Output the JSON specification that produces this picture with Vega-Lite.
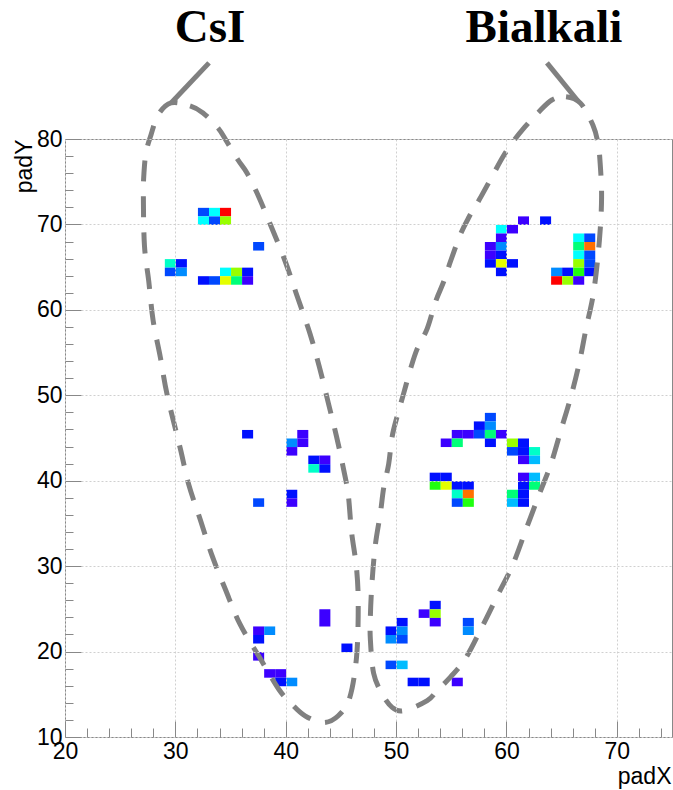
{
  "$schema": "https://vega.github.io/schema/vega-lite/v6.json",
  "width": 607,
  "height": 598,
  "autosize": "none",
  "padding": {"left": 65, "top": 139, "right": 1, "bottom": 53},
  "background": "white",
  "config": {
    "view": {"stroke": "#888888", "strokeWidth": 1},
    "axis": {"labelFont": "Liberation Sans", "titleFont": "Liberation Sans", "labelFontSize": 23, "titleFontSize": 23, "labelColor": "black", "titleColor": "black", "titleFontWeight": "normal", "domain": false, "tickColor": "#888888"}
  },
  "datasets": {
    "cells": [
      {"padX": 32.5, "padY": 71.5, "z": 3}, {"padX": 33.5, "padY": 71.5, "z": 6}, {"padX": 34.5, "padY": 71.5, "z": 13},
      {"padX": 32.5, "padY": 70.5, "z": 6}, {"padX": 33.5, "padY": 70.5, "z": 3}, {"padX": 34.5, "padY": 70.5, "z": 10},
      {"padX": 37.5, "padY": 67.5, "z": 3},
      {"padX": 29.5, "padY": 65.5, "z": 7}, {"padX": 30.5, "padY": 65.5, "z": 2},
      {"padX": 29.5, "padY": 64.5, "z": 3}, {"padX": 30.5, "padY": 64.5, "z": 4},
      {"padX": 34.5, "padY": 64.5, "z": 6}, {"padX": 35.5, "padY": 64.5, "z": 10}, {"padX": 36.5, "padY": 64.5, "z": 2},
      {"padX": 32.5, "padY": 63.5, "z": 2}, {"padX": 33.5, "padY": 63.5, "z": 3}, {"padX": 34.5, "padY": 63.5, "z": 11}, {"padX": 35.5, "padY": 63.5, "z": 8}, {"padX": 36.5, "padY": 63.5, "z": 1},
      {"padX": 36.5, "padY": 45.5, "z": 2},
      {"padX": 40.5, "padY": 44.5, "z": 4}, {"padX": 40.5, "padY": 43.5, "z": 1},
      {"padX": 41.5, "padY": 45.5, "z": 1}, {"padX": 41.5, "padY": 44.5, "z": 1},
      {"padX": 42.5, "padY": 42.5, "z": 2}, {"padX": 43.5, "padY": 42.5, "z": 1},
      {"padX": 42.5, "padY": 41.5, "z": 7}, {"padX": 43.5, "padY": 41.5, "z": 2},
      {"padX": 40.5, "padY": 38.5, "z": 2}, {"padX": 40.5, "padY": 37.5, "z": 1},
      {"padX": 37.5, "padY": 37.5, "z": 3},
      {"padX": 37.5, "padY": 22.5, "z": 1}, {"padX": 38.5, "padY": 22.5, "z": 4},
      {"padX": 37.5, "padY": 21.5, "z": 2}, {"padX": 37.5, "padY": 19.5, "z": 1},
      {"padX": 38.5, "padY": 17.5, "z": 1}, {"padX": 39.5, "padY": 17.5, "z": 1},
      {"padX": 39.5, "padY": 16.5, "z": 2}, {"padX": 40.5, "padY": 16.5, "z": 4},
      {"padX": 43.5, "padY": 24.5, "z": 1}, {"padX": 43.5, "padY": 23.5, "z": 1},
      {"padX": 45.5, "padY": 20.5, "z": 2},
      {"padX": 61.5, "padY": 70.5, "z": 1}, {"padX": 63.5, "padY": 70.5, "z": 2},
      {"padX": 59.5, "padY": 69.5, "z": 6}, {"padX": 60.5, "padY": 69.5, "z": 1},
      {"padX": 59.5, "padY": 68.5, "z": 1},
      {"padX": 58.5, "padY": 67.5, "z": 1}, {"padX": 59.5, "padY": 67.5, "z": 4},
      {"padX": 58.5, "padY": 66.5, "z": 1}, {"padX": 59.5, "padY": 66.5, "z": 2},
      {"padX": 58.5, "padY": 65.5, "z": 2}, {"padX": 59.5, "padY": 65.5, "z": 11}, {"padX": 60.5, "padY": 65.5, "z": 2},
      {"padX": 59.5, "padY": 64.5, "z": 2},
      {"padX": 66.5, "padY": 68.5, "z": 6}, {"padX": 67.5, "padY": 68.5, "z": 3},
      {"padX": 66.5, "padY": 67.5, "z": 8}, {"padX": 67.5, "padY": 67.5, "z": 12},
      {"padX": 66.5, "padY": 66.5, "z": 6}, {"padX": 67.5, "padY": 66.5, "z": 3},
      {"padX": 66.5, "padY": 65.5, "z": 10}, {"padX": 67.5, "padY": 65.5, "z": 3},
      {"padX": 64.5, "padY": 64.5, "z": 4}, {"padX": 65.5, "padY": 64.5, "z": 2}, {"padX": 66.5, "padY": 64.5, "z": 9}, {"padX": 67.5, "padY": 64.5, "z": 2},
      {"padX": 64.5, "padY": 63.5, "z": 13}, {"padX": 65.5, "padY": 63.5, "z": 10}, {"padX": 66.5, "padY": 63.5, "z": 1},
      {"padX": 58.5, "padY": 47.5, "z": 3},
      {"padX": 57.5, "padY": 46.5, "z": 2}, {"padX": 58.5, "padY": 46.5, "z": 4},
      {"padX": 55.5, "padY": 45.5, "z": 1}, {"padX": 56.5, "padY": 45.5, "z": 1}, {"padX": 57.5, "padY": 45.5, "z": 3}, {"padX": 58.5, "padY": 45.5, "z": 8}, {"padX": 59.5, "padY": 45.5, "z": 1},
      {"padX": 54.5, "padY": 44.5, "z": 1}, {"padX": 55.5, "padY": 44.5, "z": 8}, {"padX": 58.5, "padY": 44.5, "z": 2}, {"padX": 60.5, "padY": 44.5, "z": 10}, {"padX": 61.5, "padY": 44.5, "z": 2},
      {"padX": 60.5, "padY": 43.5, "z": 3}, {"padX": 61.5, "padY": 43.5, "z": 2}, {"padX": 62.5, "padY": 43.5, "z": 7},
      {"padX": 61.5, "padY": 42.5, "z": 1}, {"padX": 62.5, "padY": 42.5, "z": 5},
      {"padX": 53.5, "padY": 40.5, "z": 2}, {"padX": 54.5, "padY": 40.5, "z": 2}, {"padX": 61.5, "padY": 40.5, "z": 1}, {"padX": 62.5, "padY": 40.5, "z": 5},
      {"padX": 53.5, "padY": 39.5, "z": 9}, {"padX": 54.5, "padY": 39.5, "z": 11}, {"padX": 55.5, "padY": 39.5, "z": 2}, {"padX": 56.5, "padY": 39.5, "z": 2}, {"padX": 61.5, "padY": 39.5, "z": 2}, {"padX": 62.5, "padY": 39.5, "z": 8},
      {"padX": 55.5, "padY": 38.5, "z": 7}, {"padX": 56.5, "padY": 38.5, "z": 12}, {"padX": 60.5, "padY": 38.5, "z": 8}, {"padX": 61.5, "padY": 38.5, "z": 2},
      {"padX": 55.5, "padY": 37.5, "z": 3}, {"padX": 56.5, "padY": 37.5, "z": 9}, {"padX": 60.5, "padY": 37.5, "z": 5}, {"padX": 61.5, "padY": 37.5, "z": 2},
      {"padX": 53.5, "padY": 25.5, "z": 2},
      {"padX": 52.5, "padY": 24.5, "z": 1}, {"padX": 53.5, "padY": 24.5, "z": 10},
      {"padX": 53.5, "padY": 23.5, "z": 1}, {"padX": 50.5, "padY": 23.5, "z": 2},
      {"padX": 49.5, "padY": 22.5, "z": 2}, {"padX": 50.5, "padY": 22.5, "z": 4},
      {"padX": 49.5, "padY": 21.5, "z": 4}, {"padX": 50.5, "padY": 21.5, "z": 3},
      {"padX": 56.5, "padY": 23.5, "z": 3}, {"padX": 56.5, "padY": 22.5, "z": 4},
      {"padX": 49.5, "padY": 18.5, "z": 3}, {"padX": 50.5, "padY": 18.5, "z": 5},
      {"padX": 51.5, "padY": 16.5, "z": 2}, {"padX": 52.5, "padY": 16.5, "z": 2}, {"padX": 55.5, "padY": 16.5, "z": 1}
    ],
    "ellipses": [
      {"det": "CsI", "i": 1, "padX": 29.61, "padY": 84.22},
      {"det": "CsI", "i": 2, "padX": 31.33, "padY": 83.87},
      {"det": "CsI", "i": 3, "padX": 32.51, "padY": 83.05},
      {"det": "CsI", "i": 4, "padX": 33.87, "padY": 81.29},
      {"det": "CsI", "i": 5, "padX": 34.68, "padY": 79.65},
      {"det": "CsI", "i": 6, "padX": 35.68, "padY": 77.54},
      {"det": "CsI", "i": 7, "padX": 36.49, "padY": 76.02},
      {"det": "CsI", "i": 8, "padX": 37.40, "padY": 73.67},
      {"det": "CsI", "i": 9, "padX": 38.58, "padY": 70.08},
      {"det": "CsI", "i": 10, "padX": 39.94, "padY": 65.72},
      {"det": "CsI", "i": 11, "padX": 40.99, "padY": 61.77},
      {"det": "CsI", "i": 12, "padX": 42.20, "padY": 57.21},
      {"det": "CsI", "i": 13, "padX": 43.10, "padY": 53.06},
      {"det": "CsI", "i": 14, "padX": 43.86, "padY": 49.10},
      {"det": "CsI", "i": 15, "padX": 44.61, "padY": 45.14},
      {"det": "CsI", "i": 16, "padX": 45.20, "padY": 41.60},
      {"det": "CsI", "i": 17, "padX": 45.66, "padY": 38.41},
      {"det": "CsI", "i": 18, "padX": 45.96, "padY": 34.05},
      {"det": "CsI", "i": 19, "padX": 46.42, "padY": 29.70},
      {"det": "CsI", "i": 20, "padX": 46.57, "padY": 25.35},
      {"det": "CsI", "i": 21, "padX": 46.42, "padY": 19.41},
      {"det": "CsI", "i": 22, "padX": 45.81, "padY": 14.66},
      {"det": "CsI", "i": 23, "padX": 44.76, "padY": 12.48},
      {"det": "CsI", "i": 24, "padX": 43.40, "padY": 11.69},
      {"det": "CsI", "i": 25, "padX": 41.75, "padY": 12.48},
      {"det": "CsI", "i": 26, "padX": 40.39, "padY": 14.06},
      {"det": "CsI", "i": 27, "padX": 39.34, "padY": 15.65},
      {"det": "CsI", "i": 28, "padX": 37.68, "padY": 19.21},
      {"det": "CsI", "i": 29, "padX": 35.87, "padY": 23.17},
      {"det": "CsI", "i": 30, "padX": 34.52, "padY": 27.32},
      {"det": "CsI", "i": 31, "padX": 33.31, "padY": 31.28},
      {"det": "CsI", "i": 32, "padX": 32.26, "padY": 35.44},
      {"det": "CsI", "i": 33, "padX": 31.20, "padY": 39.60},
      {"det": "CsI", "i": 34, "padX": 30.45, "padY": 43.75},
      {"det": "CsI", "i": 35, "padX": 29.25, "padY": 50.09},
      {"det": "CsI", "i": 36, "padX": 28.64, "padY": 54.44},
      {"det": "CsI", "i": 37, "padX": 27.98, "padY": 58.80},
      {"det": "CsI", "i": 38, "padX": 27.59, "padY": 63.35},
      {"det": "CsI", "i": 39, "padX": 27.20, "padY": 67.51},
      {"det": "CsI", "i": 40, "padX": 27.10, "padY": 73.40},
      {"det": "CsI", "i": 41, "padX": 27.16, "padY": 76.13},
      {"det": "CsI", "i": 42, "padX": 27.35, "padY": 78.48},
      {"det": "CsI", "i": 43, "padX": 27.79, "padY": 80.47},
      {"det": "CsI", "i": 44, "padX": 28.43, "padY": 82.81},
      {"det": "Bialkali", "i": 1, "padX": 64.11, "padY": 84.57},
      {"det": "Bialkali", "i": 2, "padX": 65.40, "padY": 84.95},
      {"det": "Bialkali", "i": 3, "padX": 66.70, "padY": 84.20},
      {"det": "Bialkali", "i": 4, "padX": 67.83, "padY": 81.64},
      {"det": "Bialkali", "i": 5, "padX": 68.29, "padY": 79.53},
      {"det": "Bialkali", "i": 6, "padX": 68.47, "padY": 77.54},
      {"det": "Bialkali", "i": 7, "padX": 68.62, "padY": 73.20},
      {"det": "Bialkali", "i": 8, "padX": 68.42, "padY": 68.10},
      {"det": "Bialkali", "i": 9, "padX": 67.91, "padY": 62.16},
      {"det": "Bialkali", "i": 10, "padX": 67.21, "padY": 57.81},
      {"det": "Bialkali", "i": 11, "padX": 66.61, "padY": 53.85},
      {"det": "Bialkali", "i": 12, "padX": 65.85, "padY": 49.89},
      {"det": "Bialkali", "i": 13, "padX": 64.94, "padY": 45.93},
      {"det": "Bialkali", "i": 14, "padX": 64.03, "padY": 41.97},
      {"det": "Bialkali", "i": 15, "padX": 62.97, "padY": 38.41},
      {"det": "Bialkali", "i": 16, "padX": 61.76, "padY": 34.25},
      {"det": "Bialkali", "i": 17, "padX": 60.55, "padY": 30.10},
      {"det": "Bialkali", "i": 18, "padX": 59.18, "padY": 26.53},
      {"det": "Bialkali", "i": 19, "padX": 57.82, "padY": 22.97},
      {"det": "Bialkali", "i": 20, "padX": 56.30, "padY": 19.21},
      {"det": "Bialkali", "i": 21, "padX": 54.94, "padY": 17.03},
      {"det": "Bialkali", "i": 22, "padX": 53.73, "padY": 15.45},
      {"det": "Bialkali", "i": 23, "padX": 52.82, "padY": 14.26},
      {"det": "Bialkali", "i": 24, "padX": 50.70, "padY": 13.07},
      {"det": "Bialkali", "i": 25, "padX": 49.64, "padY": 13.47},
      {"det": "Bialkali", "i": 26, "padX": 48.73, "padY": 15.05},
      {"det": "Bialkali", "i": 27, "padX": 47.97, "padY": 17.43},
      {"det": "Bialkali", "i": 28, "padX": 47.67, "padY": 21.39},
      {"det": "Bialkali", "i": 29, "padX": 47.67, "padY": 24.16},
      {"det": "Bialkali", "i": 30, "padX": 47.82, "padY": 28.12},
      {"det": "Bialkali", "i": 31, "padX": 48.12, "padY": 32.47},
      {"det": "Bialkali", "i": 32, "padX": 48.58, "padY": 36.23},
      {"det": "Bialkali", "i": 33, "padX": 48.88, "padY": 39.20},
      {"det": "Bialkali", "i": 34, "padX": 49.33, "padY": 41.97},
      {"det": "Bialkali", "i": 35, "padX": 49.64, "padY": 45.14},
      {"det": "Bialkali", "i": 36, "padX": 50.09, "padY": 47.51},
      {"det": "Bialkali", "i": 37, "padX": 50.70, "padY": 50.28},
      {"det": "Bialkali", "i": 38, "padX": 51.30, "padY": 53.06},
      {"det": "Bialkali", "i": 39, "padX": 51.91, "padY": 55.43},
      {"det": "Bialkali", "i": 40, "padX": 52.82, "padY": 57.81},
      {"det": "Bialkali", "i": 41, "padX": 53.58, "padY": 60.97},
      {"det": "Bialkali", "i": 42, "padX": 54.33, "padY": 63.35},
      {"det": "Bialkali", "i": 43, "padX": 54.94, "padY": 65.72},
      {"det": "Bialkali", "i": 44, "padX": 55.85, "padY": 68.89},
      {"det": "Bialkali", "i": 45, "padX": 56.61, "padY": 70.87},
      {"det": "Bialkali", "i": 46, "padX": 57.52, "padY": 72.85},
      {"det": "Bialkali", "i": 47, "padX": 58.77, "padY": 75.78},
      {"det": "Bialkali", "i": 48, "padX": 59.67, "padY": 77.89},
      {"det": "Bialkali", "i": 49, "padX": 60.58, "padY": 79.65},
      {"det": "Bialkali", "i": 50, "padX": 61.67, "padY": 81.41},
      {"det": "Bialkali", "i": 51, "padX": 62.84, "padY": 83.05}
    ],
    "connectors": [
      {"det": "CsI", "padX": 33.05, "padY": 88.91, "padX2": 29.61, "padY2": 84.22},
      {"det": "Bialkali", "padX": 63.67, "padY": 88.91, "padX2": 66.48, "padY2": 84.45}
    ],
    "labels": [
      {"label": "CsI", "padX": 33.14, "padY": 91.4},
      {"label": "Bialkali", "padX": 63.40, "padY": 91.4}
    ]
  },
  "layer": [
    {
      "data": {"name": "cells"},
      "mark": {"type": "rect", "strokeWidth": 0},
      "encoding": {
        "x": {
          "field": "padX", "type": "quantitative", "bin": {"step": 1, "extent": [20, 75]},
          "scale": {"domain": [20, 75], "nice": false, "zero": false},
          "axis": {
            "title": "padX", "titleAnchor": "end", "titleAlign": "right", "titleX": 606, "titleY": 46, "titleBaseline": "alphabetic",
            "values": [20, 22, 24, 26, 28, 30, 32, 34, 36, 38, 40, 42, 44, 46, 48, 50, 52, 54, 56, 58, 60, 62, 64, 66, 68, 70, 72, 74],
            "labelExpr": "datum.value % 10 === 0 ? datum.value : ''",
            "labelFlush": false, "labelOverlap": false, "labelPadding": 19,
            "tickSize": {"condition": {"test": "datum.value % 10 === 0", "value": -16}, "value": -9},
            "grid": true, "gridDash": [2, 2],
            "gridColor": {"condition": {"test": "datum.value % 10 === 0", "value": "#d0d0d0"}, "value": "rgba(0,0,0,0)"}
          }
        },
        "y": {
          "field": "padY", "type": "quantitative", "bin": {"step": 1, "extent": [10, 80]},
          "scale": {"domain": [10, 80], "nice": false, "zero": false},
          "axis": {
            "title": "padY", "titleAngle": -90, "titleAlign": "right", "titleX": -34, "titleY": 0, "titleBaseline": "alphabetic",
            "values": [10, 12, 14, 16, 18, 20, 22, 24, 26, 28, 30, 32, 34, 36, 38, 40, 42, 44, 46, 48, 50, 52, 54, 56, 58, 60, 62, 64, 66, 68, 70, 72, 74, 76, 78, 80],
            "labelExpr": "datum.value % 10 === 0 ? datum.value : ''",
            "labelFlush": false, "labelOverlap": false, "labelPadding": 19,
            "tickSize": {"condition": {"test": "datum.value % 10 === 0", "value": -16}, "value": -8},
            "grid": true, "gridDash": [2, 2],
            "gridColor": {"condition": {"test": "datum.value % 10 === 0", "value": "#d0d0d0"}, "value": "rgba(0,0,0,0)"}
          }
        },
        "color": {
          "field": "z", "type": "ordinal", "legend": null,
          "scale": {"domain": [1, 2, 3, 4, 5, 6, 7, 8, 9, 10, 11, 12, 13],
                    "range": ["#3c00ff", "#0010ff", "#0048ff", "#008cff", "#00bcff", "#00ffff", "#00ffc8", "#00ff78", "#20ff10", "#98ff00", "#e4ff00", "#ff7000", "#ff0000"]}
        }
      }
    },
    {
      "data": {"name": "ellipses"},
      "mark": {"type": "line", "interpolate": "cardinal-closed", "strokeDash": [21, 15], "strokeWidth": 5, "color": "#808080", "strokeCap": "butt", "clip": false},
      "encoding": {
        "x": {"field": "padX", "type": "quantitative", "title": "padX"},
        "y": {"field": "padY", "type": "quantitative", "title": "padY"},
        "detail": {"field": "det"},
        "order": {"field": "i", "type": "quantitative"}
      }
    },
    {
      "data": {"name": "connectors"},
      "mark": {"type": "rule", "strokeWidth": 5, "color": "#808080", "clip": false},
      "encoding": {
        "x": {"field": "padX", "type": "quantitative", "title": "padX"},
        "y": {"field": "padY", "type": "quantitative", "title": "padY"},
        "x2": {"field": "padX2"},
        "y2": {"field": "padY2"}
      }
    },
    {
      "data": {"name": "labels"},
      "mark": {"type": "text", "font": "Liberation Serif", "fontWeight": "bold", "fontSize": 47, "align": "center", "baseline": "alphabetic", "color": "black", "clip": false},
      "encoding": {
        "x": {"field": "padX", "type": "quantitative", "title": "padX"},
        "y": {"field": "padY", "type": "quantitative", "title": "padY"},
        "text": {"field": "label"}
      }
    }
  ]
}
